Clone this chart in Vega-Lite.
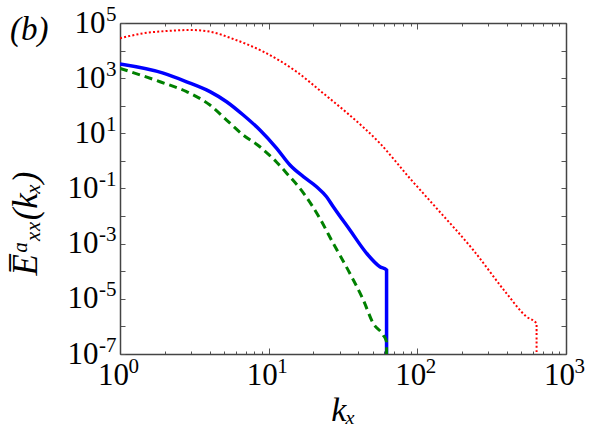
{
  "$schema": "https://vega.github.io/schema/vega-lite/v6.json",
  "width": 446,
  "height": 331,
  "autosize": "none",
  "padding": {"left": 120, "top": 23, "right": 32, "bottom": 84},
  "background": "white",
  "title": {"text": "(b)", "font": "Liberation Serif", "fontStyle": "italic", "fontWeight": "normal", "fontSize": 33, "anchor": "start", "frame": "group", "orient": "top", "baseline": "alphabetic", "offset": -30, "dx": -110, "dy": 40, "color": "black"},
  "config": {
    "view": {"stroke": null},
    "axis": {"grid": false, "domainColor": "#444", "domainWidth": 1.5, "tickColor": "#555", "tickWidth": 1, "labelFont": "Liberation Serif", "labelColor": "black", "labelFlush": false, "labelOverlap": false, "titleFont": "Liberation Serif", "titleFontStyle": "italic", "titleFontWeight": "normal", "titleColor": "black"}
  },
  "datasets": {
    "d": [
      {"s": "red", "k": 1, "E": 27860},
      {"s": "red", "k": 1.435, "E": 42360},
      {"s": "red", "k": 2.061, "E": 51290},
      {"s": "red", "k": 2.958, "E": 55720},
      {"s": "red", "k": 4.027, "E": 48420},
      {"s": "red", "k": 5.78, "E": 26300},
      {"s": "red", "k": 9.2, "E": 9120},
      {"s": "red", "k": 15.4, "E": 1714},
      {"s": "red", "k": 23.3, "E": 282},
      {"s": "red", "k": 33.5, "E": 56},
      {"s": "red", "k": 56.0, "E": 4.35},
      {"s": "red", "k": 89.1, "E": 0.234},
      {"s": "red", "k": 134.9, "E": 0.0191},
      {"s": "red", "k": 237.7, "E": 0.000589},
      {"s": "red", "k": 398, "E": 0.0000158},
      {"s": "red", "k": 543, "E": 0.00000224},
      {"s": "red", "k": 634, "E": 0.00000129},
      {"s": "red", "k": 634.01, "E": 1e-9},
      {"s": "blue", "k": 1, "E": 3236},
      {"s": "blue", "k": 1.954, "E": 1514},
      {"s": "blue", "k": 2.805, "E": 741},
      {"s": "blue", "k": 4.027, "E": 324},
      {"s": "blue", "k": 5.21, "E": 140},
      {"s": "blue", "k": 6.745, "E": 46.1},
      {"s": "blue", "k": 8.73, "E": 13.2},
      {"s": "blue", "k": 11.32, "E": 2.85},
      {"s": "blue", "k": 13.9, "E": 0.71},
      {"s": "blue", "k": 17.1, "E": 0.269},
      {"s": "blue", "k": 21.0, "E": 0.116},
      {"s": "blue", "k": 24.5, "E": 0.0504},
      {"s": "blue", "k": 27.2, "E": 0.0219},
      {"s": "blue", "k": 35.2, "E": 0.00312},
      {"s": "blue", "k": 45.6, "E": 0.000447},
      {"s": "blue", "k": 56.0, "E": 0.000146},
      {"s": "blue", "k": 62.1, "E": 0.000111},
      {"s": "blue", "k": 62.11, "E": 1e-9},
      {"s": "green", "k": 1, "E": 2275},
      {"s": "green", "k": 1.858, "E": 741},
      {"s": "green", "k": 2.805, "E": 324},
      {"s": "green", "k": 4.027, "E": 106},
      {"s": "green", "k": 5.21, "E": 30.4},
      {"s": "green", "k": 6.745, "E": 8.69},
      {"s": "green", "k": 8.73, "E": 3.27},
      {"s": "green", "k": 10.2, "E": 1.55},
      {"s": "green", "k": 11.32, "E": 0.9},
      {"s": "green", "k": 13.2, "E": 0.36},
      {"s": "green", "k": 17.1, "E": 0.07},
      {"s": "green", "k": 22.1, "E": 0.0082},
      {"s": "green", "k": 27.2, "E": 0.00102},
      {"s": "green", "k": 35.2, "E": 0.000083},
      {"s": "green", "k": 43.3, "E": 0.0000091},
      {"s": "green", "k": 50.5, "E": 0.00000129},
      {"s": "green", "k": 58.9, "E": 0.00000049},
      {"s": "green", "k": 62.1, "E": 0.000000275},
      {"s": "green", "k": 62.11, "E": 1e-9}
    ]
  },
  "data": {"name": "d"},
  "layer": [
    {
      "transform": [{"filter": "datum.s === 'red'"}],
      "mark": {"type": "line", "color": "#ff0000", "strokeWidth": 2, "strokeDash": [2, 2.2], "clip": true, "interpolate": "monotone"},
      "encoding": {
        "x": {"field": "k", "type": "quantitative", "scale": {"type": "log", "domain": [1, 1000], "nice": false},
          "axis": {"orient": "bottom", "title": "kₓ", "titleFontSize": 34, "titleX": 223, "titleY": 66, "titleBaseline": "alphabetic", "titleAlign": "center",
            "values": [1,2,3,4,5,6,7,8,9,10,20,30,40,50,60,70,80,90,100,200,300,400,500,600,700,800,900,1000],
            "tickSize": {"condition": {"test": "abs(log(datum.value)/LN10 - round(log(datum.value)/LN10)) < 0.000001", "value": -6}, "value": -3},
            "labels": false}},
        "y": {"field": "E", "type": "quantitative", "scale": {"type": "log", "domain": [1e-7, 1e5], "nice": false},
          "axis": {"orient": "left", "title": "E̅ᵅₓₓ(kₓ)", "titleFontSize": 35, "titleX": -95, "titleY": 200, "titleAngle": -90, "titleAlign": "center", "titleBaseline": "middle",
            "values": [1e-7,1e-6,1e-5,1e-4,1e-3,1e-2,1e-1,1,10,100,1000,10000,100000],
            "tickSize": -5,
            "labels": false}}
      }
    },
    {
      "transform": [{"filter": "datum.s === 'blue'"}],
      "mark": {"type": "line", "color": "#0000ff", "strokeWidth": 3.5, "clip": true, "interpolate": "monotone"},
      "encoding": {
        "x": {"field": "k", "type": "quantitative",
          "axis": {"orient": "bottom", "title": null, "domain": false, "ticks": false,
            "values": [1, 10, 100, 1000],
            "labelFontSize": 31, "labelAlign": "center", "labelBaseline": "alphabetic", "labelPadding": 30, "labelOffset": -7,
            "labelExpr": "'10'"}},
        "y": {"field": "E", "type": "quantitative",
          "axis": {"orient": "left", "title": null, "domain": false, "ticks": false,
            "values": [10, 1000, 100000],
            "labelFontSize": 31, "labelAlign": "right", "labelBaseline": "middle", "labelPadding": 15,
            "labelExpr": "'10'"}}
      }
    },
    {
      "transform": [{"filter": "datum.s === 'green'"}],
      "mark": {"type": "line", "color": "#008000", "strokeWidth": 3, "strokeDash": [8, 5], "clip": true, "interpolate": "monotone"},
      "encoding": {
        "x": {"field": "k", "type": "quantitative",
          "axis": {"orient": "bottom", "title": null, "domain": false, "ticks": false,
            "values": [1, 10, 100, 1000],
            "labelFontSize": 21, "labelAlign": "left", "labelBaseline": "alphabetic", "labelPadding": 18, "labelOffset": 8,
            "labelExpr": "format(round(log(datum.value)/LN10), 'd')"}},
        "y": {"field": "E", "type": "quantitative",
          "axis": {"orient": "left", "title": null, "domain": false, "ticks": false,
            "values": [1e-7,1e-5,1e-3,1e-1,10,1000,100000],
            "labelFontSize": 21, "labelAlign": "right", "labelBaseline": "middle", "labelPadding": 4, "labelOffset": -9,
            "labelExpr": "replace(format(round(log(datum.value)/LN10), 'd'), '−', '-')"}}
      }
    },
    {
      "transform": [{"filter": "datum.s === 'green'"}],
      "mark": {"type": "line", "opacity": 0, "clip": true},
      "encoding": {
        "x": {"field": "k", "type": "quantitative",
          "axis": {"orient": "top", "title": null, "labels": false,
            "values": [1,2,3,4,5,6,7,8,9,10,20,30,40,50,60,70,80,90,100,200,300,400,500,600,700,800,900,1000],
            "tickSize": {"condition": {"test": "abs(log(datum.value)/LN10 - round(log(datum.value)/LN10)) < 0.000001", "value": -6}, "value": -3}}},
        "y": {"field": "E", "type": "quantitative",
          "axis": {"orient": "right", "title": null, "labels": false,
            "values": [1e-7,1e-6,1e-5,1e-4,1e-3,1e-2,1e-1,1,10,100,1000,10000,100000],
            "tickSize": -5}}
      }
    },
    {
      "transform": [{"filter": "datum.s === 'green'"}],
      "mark": {"type": "line", "opacity": 0, "clip": true},
      "encoding": {
        "x": {"field": "k", "type": "quantitative", "axis": null},
        "y": {"field": "E", "type": "quantitative",
          "axis": {"orient": "left", "title": null, "domain": false, "ticks": false,
            "values": [1e-7, 1e-5, 1e-3, 1e-1],
            "labelFontSize": 31, "labelAlign": "right", "labelBaseline": "middle", "labelPadding": 22,
            "labelExpr": "'10'"}}
      }
    }
  ],
  "resolve": {"axis": {"x": "independent", "y": "independent"}}
}
